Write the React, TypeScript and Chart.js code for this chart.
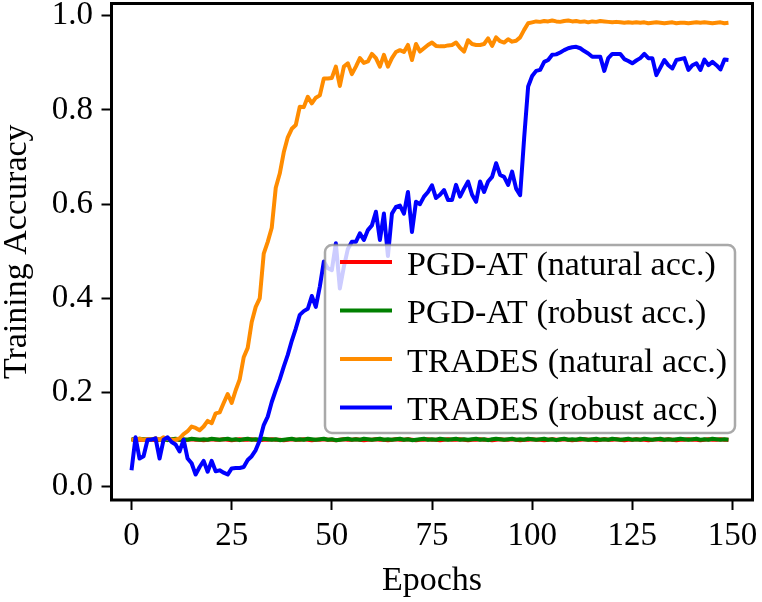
import { useEffect, useRef } from "react";
import { Chart, registerables } from "chart.js";

Chart.register(...registerables);

const epochs = Array.from({ length: 150 }, (_, i) => i);
const xTicks = [0, 25, 50, 75, 100, 125, 150];
const yTicks = [0, 0.2, 0.4, 0.6, 0.8, 1.0];

const seriesLabels = [
	"PGD-AT (natural acc.)",
	"PGD-AT (robust acc.)",
	"TRADES (natural acc.)",
	"TRADES (robust acc.)",
];
const seriesColors = ["#ff0000", "#008000", "#ff8c00", "#0000ff"];

const pgdNatural = [
	0.100, 0.101, 0.100, 0.100, 0.101, 0.100, 0.099, 0.100, 0.101, 0.100,
	0.100, 0.101, 0.100, 0.099, 0.100, 0.101, 0.100, 0.100, 0.099, 0.100,
	0.101, 0.100, 0.100, 0.101, 0.100, 0.099, 0.100, 0.101, 0.100, 0.100,
	0.101, 0.100, 0.099, 0.100, 0.100, 0.101, 0.100, 0.100, 0.099, 0.100,
	0.101, 0.100, 0.100, 0.101, 0.100, 0.099, 0.100, 0.100, 0.101, 0.100,
	0.100, 0.099, 0.100, 0.101, 0.100, 0.100, 0.101, 0.100, 0.099, 0.100,
	0.100, 0.101, 0.100, 0.100, 0.099, 0.100, 0.101, 0.100, 0.100, 0.101,
	0.100, 0.099, 0.100, 0.100, 0.101, 0.100, 0.100, 0.099, 0.100, 0.101,
	0.100, 0.100, 0.101, 0.100, 0.099, 0.100, 0.100, 0.101, 0.100, 0.100,
	0.099, 0.100, 0.101, 0.100, 0.100, 0.101, 0.100, 0.099, 0.100, 0.100,
	0.101, 0.100, 0.100, 0.099, 0.100, 0.101, 0.100, 0.100, 0.101, 0.100,
	0.099, 0.100, 0.100, 0.101, 0.100, 0.100, 0.099, 0.100, 0.101, 0.100,
	0.100, 0.101, 0.100, 0.099, 0.100, 0.100, 0.101, 0.100, 0.100, 0.099,
	0.100, 0.101, 0.100, 0.100, 0.101, 0.100, 0.099, 0.100, 0.100, 0.101,
	0.100, 0.100, 0.099, 0.100, 0.101, 0.100, 0.100, 0.101, 0.100, 0.100,
];

const pgdRobust = [
	0.101, 0.100, 0.102, 0.101, 0.100, 0.101, 0.102, 0.100, 0.101, 0.099,
	0.101, 0.102, 0.100, 0.101, 0.100, 0.102, 0.101, 0.100, 0.101, 0.100,
	0.102, 0.101, 0.100, 0.101, 0.102, 0.100, 0.101, 0.099, 0.101, 0.102,
	0.100, 0.101, 0.100, 0.102, 0.101, 0.100, 0.101, 0.099, 0.100, 0.101,
	0.102, 0.100, 0.101, 0.100, 0.102, 0.101, 0.100, 0.101, 0.102, 0.100,
	0.101, 0.099, 0.100, 0.101, 0.102, 0.100, 0.101, 0.100, 0.102, 0.101,
	0.100, 0.101, 0.102, 0.100, 0.101, 0.100, 0.101, 0.102, 0.100, 0.101,
	0.099, 0.100, 0.101, 0.102, 0.100, 0.101, 0.100, 0.102, 0.101, 0.100,
	0.101, 0.102, 0.100, 0.101, 0.100, 0.101, 0.102, 0.100, 0.101, 0.099,
	0.101, 0.102, 0.101, 0.100, 0.101, 0.102, 0.100, 0.101, 0.100, 0.102,
	0.101, 0.100, 0.101, 0.102, 0.100, 0.101, 0.099, 0.101, 0.102, 0.100,
	0.101, 0.100, 0.102, 0.101, 0.100, 0.101, 0.102, 0.100, 0.101, 0.100,
	0.102, 0.101, 0.100, 0.101, 0.102, 0.100, 0.101, 0.100, 0.102, 0.101,
	0.100, 0.101, 0.102, 0.100, 0.101, 0.100, 0.101, 0.102, 0.101, 0.100,
	0.101, 0.102, 0.100, 0.101, 0.100, 0.102, 0.101, 0.100, 0.101, 0.100,
];

const tradesNatural = [
	0.100, 0.100, 0.102, 0.100, 0.101, 0.100, 0.103, 0.100, 0.105, 0.102,
	0.100, 0.100, 0.103, 0.112, 0.118, 0.128, 0.125, 0.120, 0.128, 0.140,
	0.135, 0.156, 0.158, 0.178, 0.197, 0.178, 0.205, 0.228, 0.275, 0.295,
	0.350, 0.382, 0.400, 0.495, 0.520, 0.550, 0.635, 0.665, 0.710, 0.742,
	0.760, 0.768, 0.807, 0.806, 0.828, 0.814, 0.826, 0.831, 0.867, 0.867,
	0.868, 0.892, 0.851, 0.892, 0.899, 0.876, 0.892, 0.910, 0.900, 0.903,
	0.919, 0.910, 0.892, 0.917, 0.892, 0.910, 0.923, 0.927, 0.923, 0.938,
	0.906, 0.940, 0.924, 0.931, 0.938, 0.943, 0.936, 0.935, 0.935, 0.937,
	0.938, 0.943, 0.932, 0.924, 0.948, 0.940, 0.938, 0.938, 0.940, 0.952,
	0.936, 0.954, 0.946, 0.943, 0.950, 0.945, 0.947, 0.954, 0.970, 0.984,
	0.986, 0.988, 0.987, 0.989, 0.988, 0.990, 0.988, 0.987, 0.989, 0.990,
	0.988, 0.989, 0.987, 0.988, 0.986, 0.988, 0.987, 0.989, 0.988, 0.987,
	0.986, 0.987, 0.986, 0.985, 0.986, 0.985, 0.986, 0.985, 0.986, 0.984,
	0.985, 0.986, 0.985, 0.984, 0.985, 0.986, 0.984, 0.985, 0.985, 0.984,
	0.985, 0.986, 0.985, 0.986, 0.985, 0.984, 0.985, 0.986, 0.984, 0.985,
];

const tradesRobust = [
	0.035, 0.105, 0.060, 0.065, 0.100, 0.100, 0.103, 0.060, 0.100, 0.105,
	0.095, 0.090, 0.075, 0.100, 0.060, 0.050, 0.026, 0.042, 0.055, 0.032,
	0.055, 0.033, 0.035, 0.030, 0.026, 0.039, 0.040, 0.040, 0.042, 0.057,
	0.065, 0.078, 0.099, 0.131, 0.149, 0.180, 0.205, 0.228, 0.255, 0.280,
	0.310, 0.336, 0.365, 0.373, 0.378, 0.405, 0.382, 0.425, 0.478, 0.464,
	0.460, 0.517, 0.421, 0.467, 0.505, 0.520, 0.520, 0.538, 0.524, 0.545,
	0.555, 0.584, 0.524, 0.580, 0.490, 0.580, 0.594, 0.597, 0.580, 0.626,
	0.541, 0.605, 0.600, 0.616, 0.626, 0.640, 0.613, 0.620, 0.630, 0.609,
	0.609, 0.641, 0.616, 0.633, 0.648, 0.620, 0.605, 0.648, 0.626, 0.648,
	0.658, 0.687, 0.662, 0.658, 0.641, 0.669, 0.633, 0.619, 0.740, 0.850,
	0.872, 0.883, 0.885, 0.902, 0.906, 0.917, 0.918, 0.922, 0.927, 0.931,
	0.933, 0.934, 0.931, 0.925, 0.920, 0.913, 0.913, 0.913, 0.883, 0.910,
	0.919, 0.919, 0.919, 0.908, 0.904, 0.899, 0.905, 0.910, 0.919, 0.910,
	0.910, 0.874, 0.890, 0.906, 0.895, 0.888, 0.906, 0.908, 0.910, 0.885,
	0.895, 0.899, 0.885, 0.907, 0.895, 0.902, 0.895, 0.886, 0.907, 0.906,
];

const serif = "'Liberation Serif', 'Times New Roman', serif";

// legend box drawn inside the plot, over the lines, like matplotlib's
const legendBox = {
	id: "legendBox",
	afterDatasetsDraw(chart: Chart) {
		const ctx = chart.ctx;
		const x = 325;
		const y = 245;
		const w = 410;
		const h = 188;
		const r = 7;
		ctx.save();
		ctx.beginPath();
		ctx.moveTo(x + r, y);
		ctx.arcTo(x + w, y, x + w, y + h, r);
		ctx.arcTo(x + w, y + h, x, y + h, r);
		ctx.arcTo(x, y + h, x, y, r);
		ctx.arcTo(x, y, x + w, y, r);
		ctx.closePath();
		ctx.fillStyle = "rgba(255,255,255,0.8)";
		ctx.fill();
		ctx.strokeStyle = "rgba(140,140,140,0.75)";
		ctx.lineWidth = 2.5;
		ctx.stroke();

		ctx.font = `34px ${serif}`;
		ctx.textBaseline = "alphabetic";
		ctx.textAlign = "left";
		chart.data.datasets.forEach((ds, i) => {
			const rowY = 262 + i * 48.5;
			ctx.beginPath();
			ctx.moveTo(340, rowY);
			ctx.lineTo(392, rowY);
			ctx.strokeStyle = ds.borderColor as string;
			ctx.lineWidth = 4;
			ctx.stroke();
			ctx.fillStyle = "#000";
			ctx.fillText(ds.label ?? "", 407, rowY + 12.5);
		});
		ctx.restore();
	},
};

const frame = {
	id: "frame",
	afterDraw(chart: Chart) {
		const { left, top, right, bottom } = chart.chartArea;
		const ctx = chart.ctx;
		ctx.save();
		ctx.strokeStyle = "#000";
		ctx.lineWidth = 3;
		ctx.strokeRect(left, top, right - left, bottom - top);
		ctx.restore();
	},
};

const App = () => {
	const canvasRef = useRef<HTMLCanvasElement | null>(null);

	useEffect(() => {
		if (!canvasRef.current) return;
		const series = [pgdNatural, pgdRobust, tradesNatural, tradesRobust];

		const chart = new Chart(canvasRef.current, {
			type: "line",
			data: {
				datasets: series.map((vals, i) => ({
					label: seriesLabels[i],
					data: epochs.map((e, j) => ({ x: e, y: vals[j] })),
					borderColor: seriesColors[i],
					backgroundColor: seriesColors[i],
					borderWidth: 4,
					pointRadius: 0,
					tension: 0,
					borderJoinStyle: "round" as const,
					order: 3 - i,
				})),
			},
			options: {
				animation: false,
				responsive: true,
				maintainAspectRatio: false,
				layout: { padding: { left: 0, top: 3.5, right: 9.5, bottom: 0 } },
				plugins: {
					legend: { display: false },
					tooltip: { enabled: false },
				},
				scales: {
					x: {
						type: "linear",
						min: -5,
						max: 155,
						afterBuildTicks: (s) => {
							s.ticks = xTicks.map((value) => ({ value }));
						},
						afterFit: (s) => {
							s.height = 102;
							s.paddingLeft = 0;
							s.paddingRight = 0;
						},
						border: { display: false },
						grid: {
							drawOnChartArea: false,
							drawTicks: true,
							tickLength: 10,
							tickWidth: 2,
							tickColor: "#000",
						},
						ticks: {
							color: "#000",
							padding: 7,
							maxRotation: 0,
							font: { family: serif, size: 33 },
							callback: (v) => String(v),
						},
						title: {
							display: true,
							text: "Epochs",
							color: "#000",
							font: { family: serif, size: 34 },
							padding: { top: 0, bottom: 1 },
						},
					},
					y: {
						type: "linear",
						min: -0.028,
						max: 1.026,
						afterBuildTicks: (s) => {
							s.ticks = yTicks.map((value) => ({ value }));
						},
						afterFit: (s) => {
							s.width = 111.5;
							s.paddingTop = 0;
							s.paddingBottom = 0;
						},
						border: { display: false },
						grid: {
							drawOnChartArea: false,
							drawTicks: true,
							tickLength: 10,
							tickWidth: 2,
							tickColor: "#000",
						},
						ticks: {
							color: "#000",
							padding: 8.5,
							font: { family: serif, size: 33 },
							callback: (v) => Number(v).toFixed(1),
						},
						title: {
							display: true,
							text: "Training Accuracy",
							color: "#000",
							font: { family: serif, size: 34, lineHeight: 1 },
							padding: { top: 0, bottom: 0 },
						},
					},
				},
			},
			plugins: [legendBox, frame],
		});

		return () => {
			chart.destroy();
		};
	}, []);

	return (
		<div style={{ position: "absolute", left: 0, top: 0, width: 762, height: 602, background: "#fff" }}>
			<canvas ref={canvasRef} />
		</div>
	);
};

export default App;
